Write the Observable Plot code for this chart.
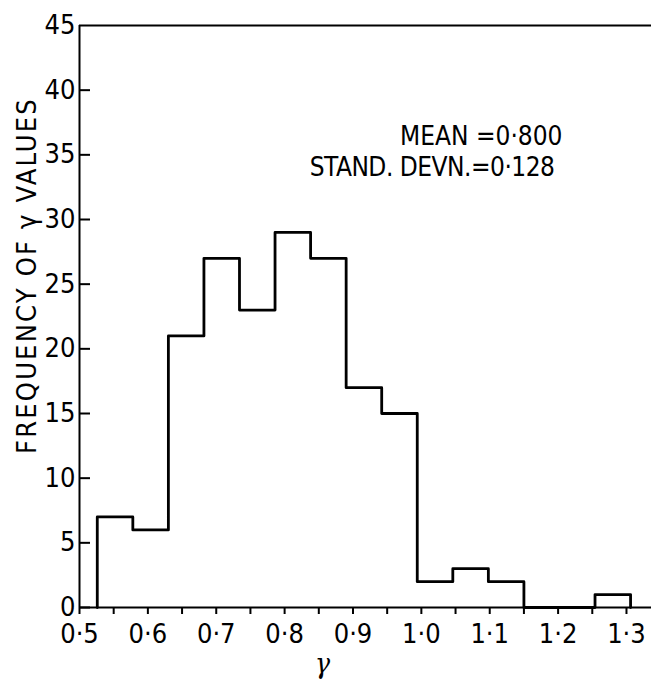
<!DOCTYPE html>
<html>
<head>
<meta charset="utf-8">
<script src="https://cdn.jsdelivr.net/npm/d3@7"></script>
<script src="https://cdn.jsdelivr.net/npm/@observablehq/plot@0.6"></script>
<style>
  html, body { margin: 0; padding: 0; background: #fff; }
  #chart svg { display: block; }
</style>
</head>
<body>
<div id="chart"></div>
<script>
// Bin edges of the γ histogram (bin width ≈ 0.052)
const binEdges = [0.526, 0.578, 0.630, 0.682, 0.734, 0.786, 0.838, 0.890, 0.942, 0.994, 1.046, 1.098, 1.150, 1.202, 1.254, 1.306];
// Frequency in each bin
const binCounts = [7, 6, 21, 27, 23, 29, 27, 17, 15, 2, 3, 2, 0, 0, 1];
// Axis ticks
const xMajorTicks = [0.5, 0.6, 0.7, 0.8, 0.9, 1.0, 1.1, 1.2, 1.3];
const xMinorTicks = [0.5, 0.55, 0.6, 0.65, 0.7, 0.75, 0.8, 0.85, 0.9, 0.95, 1.0, 1.05, 1.1, 1.15, 1.2, 1.25, 1.3];
const yTicks = [0, 5, 10, 15, 20, 25, 30, 35, 40, 45];
// Text
const yLabel = "FREQUENCY OF γ VALUES";
const xLabel = "γ";
const statsLines = ["MEAN =0·800", "STAND. DEVN.=0·128"];

// Step outline points built from the bins
const outline = [{x: binEdges[0], y: 0}].concat(
  binEdges.map((e, i) => ({x: e, y: i < binCounts.length ? binCounts[i] : 0}))
);

const font = "'DejaVu Sans Condensed', 'DejaVu Sans', sans-serif";
const fmt = d => d.toFixed(1).replace(".", "·");

const chart = Plot.plot({
  width: 651,
  height: 680,
  marginLeft: 79,
  marginRight: 0,
  marginTop: 25,
  marginBottom: 73,
  style: {fontFamily: font, fontStretch: "condensed", color: "#000", background: "#fff"},
  x: {domain: [0.5, 1.3366]},
  y: {domain: [0, 45]},
  marks: [
    // frame lines: left, top, bottom
    Plot.ruleX([0.5], {stroke: "#000", strokeWidth: 2}),
    Plot.ruleY([45], {stroke: "#000", strokeWidth: 2}),
    Plot.ruleY([0], {stroke: "#000", strokeWidth: 2}),
    // x ticks (all 0.05 steps), labels at 0.1
    Plot.axisX({ticks: xMinorTicks, tickSize: 7, strokeWidth: 2, text: null, label: null}),
    Plot.axisX({ticks: xMajorTicks, tickSize: 0, tickPadding: 16, tickFormat: fmt, fontSize: 27, label: null}),
    // y ticks pointing inward, labels outside
    Plot.axisY({ticks: yTicks.filter(d => d < 45), tickSize: -11, strokeWidth: 2, text: null, label: null}),
    Plot.axisY({ticks: yTicks, tickSize: 0, tickPadding: 4, fontSize: 27, label: null}),
    // histogram outline
    Plot.line(outline, {x: "x", y: "y", curve: "step-after", stroke: "#000", strokeWidth: 2.8}),
    // stats annotation
    Plot.text([statsLines[0]], {
      frameAnchor: "top-right", textAnchor: "end", lineAnchor: "top",
      dx: -89, dy: 101, fontSize: 26, fill: "#000"
    }),
    Plot.text([statsLines[1]], {
      frameAnchor: "top-right", textAnchor: "end", lineAnchor: "top",
      dx: -97, dy: 132, fontSize: 26, fill: "#000"
    }),
    // axis labels
    Plot.text([yLabel], {frameAnchor: "left", textAnchor: "middle", rotate: -90, dx: -52, dy: -41, fontSize: 27, fill: "#000"}),
    Plot.text([xLabel], {frameAnchor: "bottom", dx: -43, dy: 65, fontSize: 28, fontStyle: "italic", fontFamily: "'DejaVu Serif', serif", fill: "#000"})
  ]
});
// letter spacing tweaks to match the lettering widths
d3.select(chart).selectAll("text").each(function() {
  const t = this.textContent;
  if (t === yLabel) this.setAttribute("letter-spacing", "2.2");
  if (t === statsLines[1]) this.setAttribute("letter-spacing", "-0.5");
});
document.getElementById("chart").appendChild(chart);
</script>
</body>
</html>
